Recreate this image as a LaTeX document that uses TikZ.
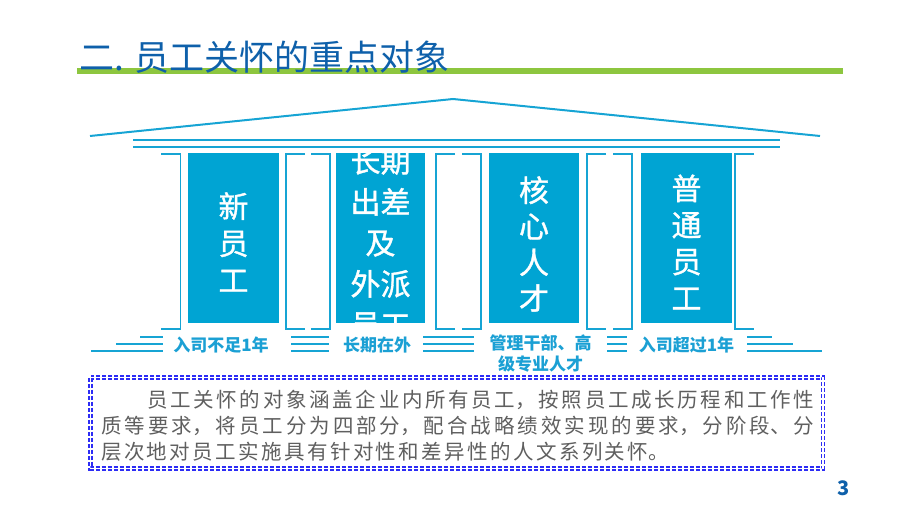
\documentclass[tikz,border=0pt]{standalone}
\usepackage{fontspec}
\setmainfont{Noto Sans CJK SC}
\newfontfamily\pillarfont[FakeBold=1.2]{Noto Sans CJK SC}
\usepackage{tikz}
\usetikzlibrary{positioning}

\definecolor{TitleBlue}{RGB}{14,96,170}
\definecolor{BarGreen}{RGB}{141,198,63}
\definecolor{PillarBlue}{RGB}{0,164,211}
\definecolor{LineBlue}{RGB}{22,164,212}
\definecolor{LabelBlue}{RGB}{27,160,212}
\definecolor{BoxBlue}{RGB}{45,45,245}
\definecolor{BodyGray}{RGB}{95,95,95}

\XeTeXlinebreaklocale "zh"
\XeTeXlinebreakskip = 2.4pt plus 1pt

\begin{document}
\begin{tikzpicture}[x=1pt,y=-1pt]
  \tikzset{PillarStyle/.style = {
    shape          = rectangle,
    draw           = none,
    fill           = PillarBlue,
    inner sep      = 0pt,
    outer sep      = 0pt,
    minimum width  = 91pt,
    minimum height = 170pt
    }
  }
  \tikzset{PillarTextStyle/.style = {
    text          = white,
    align         = center,
    inner sep     = 0pt,
    font          = \pillarfont\fontsize{30}{37}\selectfont
    }
  }
  \tikzset{LabelStyle/.style = {
    text          = LabelBlue,
    align         = center,
    inner sep     = 0pt,
    font          = \fontsize{17}{21}\selectfont\bfseries
    }
  }
  \tikzset{FrameStyle/.style = {
    draw          = LineBlue,
    line width    = 2pt
    }
  }
  \tikzset{BracketStyle/.style = {
    draw          = LineBlue,
    line width    = 1.6pt
    }
  }

  \useasboundingbox (0,0) rectangle (920,518);

  \fill[BarGreen] (77,68) rectangle (843,74);
  \node[anchor=west, inner sep=0pt, text=TitleBlue,
        font=\fontsize{35}{40}\selectfont](Title) at (79,57) {二. 员工关怀的重点对象};

  \draw[FrameStyle] (90,136) -- (453,99) -- (820,136);
  \draw[FrameStyle] (133,140) -- (780,140);
  \draw[FrameStyle] (133,147) -- (780,147);

  \node[PillarStyle](P1) at (233.5,238) {};
  \node[PillarStyle, minimum width=89pt](P2) at (380.5,238) {};
  \node[PillarStyle, minimum width=90pt](P3) at (534,238) {};
  \node[PillarStyle](P4) at (686.5,238) {};

  \node[PillarTextStyle](T1) at (233.5,242) {新\\员\\工};
  \begin{scope}
    \clip (P2.north west) rectangle (P2.south east);
    \node[PillarTextStyle, font=\pillarfont\fontsize{30}{41}\selectfont](T2) at (380.5,243)
      {长期\\出差\\及\\外派\\员工};
  \end{scope}
  \node[PillarTextStyle, font=\pillarfont\fontsize{30}{36}\selectfont](T3) at (534,244) {核\\心\\人\\才};
  \node[PillarTextStyle, font=\pillarfont\fontsize{30}{36.5}\selectfont](T4) at (686.5,242) {普\\通\\员\\工};

  \draw[BracketStyle] (161,154) -- (180.5,154) -- (180.5,329) -- (161,329);
  \foreach \xa/\xb in {286/330, 436/481, 587/632} {
    \draw[BracketStyle] (\xa+19,154) -- (\xa,154) -- (\xa,329) -- (\xa+19,329);
    \draw[BracketStyle] (\xb-19,154) -- (\xb,154) -- (\xb,329) -- (\xb-19,329);
  }
  \draw[BracketStyle] (754,154) -- (735,154) -- (735,329) -- (754,329);

  \node[LabelStyle](L1) at (221,345) {入司不足1年};
  \node[LabelStyle](L2) at (377,345) {长期在外};
  \node[LabelStyle](L3) at (540.5,353.5) {管理干部、高\\级专业人才};
  \node[LabelStyle](L4) at (686.5,345) {入司超过1年};

  \draw[FrameStyle] (140,337) -- (163,337);
  \draw[FrameStyle] (116,344) -- (163,344);
  \draw[FrameStyle] (91,351) -- (163,351);
  \foreach \xa/\xb in {291/329, 423/474, 607/627}
    \foreach \yy in {337, 344, 351}
      \draw[FrameStyle] (\xa,\yy) -- (\xb,\yy);
  \draw[FrameStyle] (747,337) -- (772,337);
  \draw[FrameStyle] (747,344) -- (793,344);
  \draw[FrameStyle] (747,351) -- (822,351);

  \draw[draw=BoxBlue, line width=1.3pt, double=white, double distance=1.8pt,
        dash pattern=on 4pt off 2pt] (90.5,377.5) rectangle (823,468.5);
  \node[anchor=west, inner sep=0pt, text width=713pt, align=justify, text=BodyGray,
        font=\fontsize{20.5}{26}\selectfont](Desc) at (101,426)
    {\hspace*{46pt}员工关怀的对象涵盖企业内所有员工，按照员工成长历程和工作性\linebreak
     质等要求，将员工分为四部分，配合战略绩效实现的要求，分阶段、分\linebreak
     层次地对员工实施具有针对性和差异性的人文系列关怀。};

  \node[text=TitleBlue, inner sep=0pt, font=\fontsize{20}{24}\selectfont\bfseries](Page) at (843.5,488.5) {3};
\end{tikzpicture}
\end{document}
